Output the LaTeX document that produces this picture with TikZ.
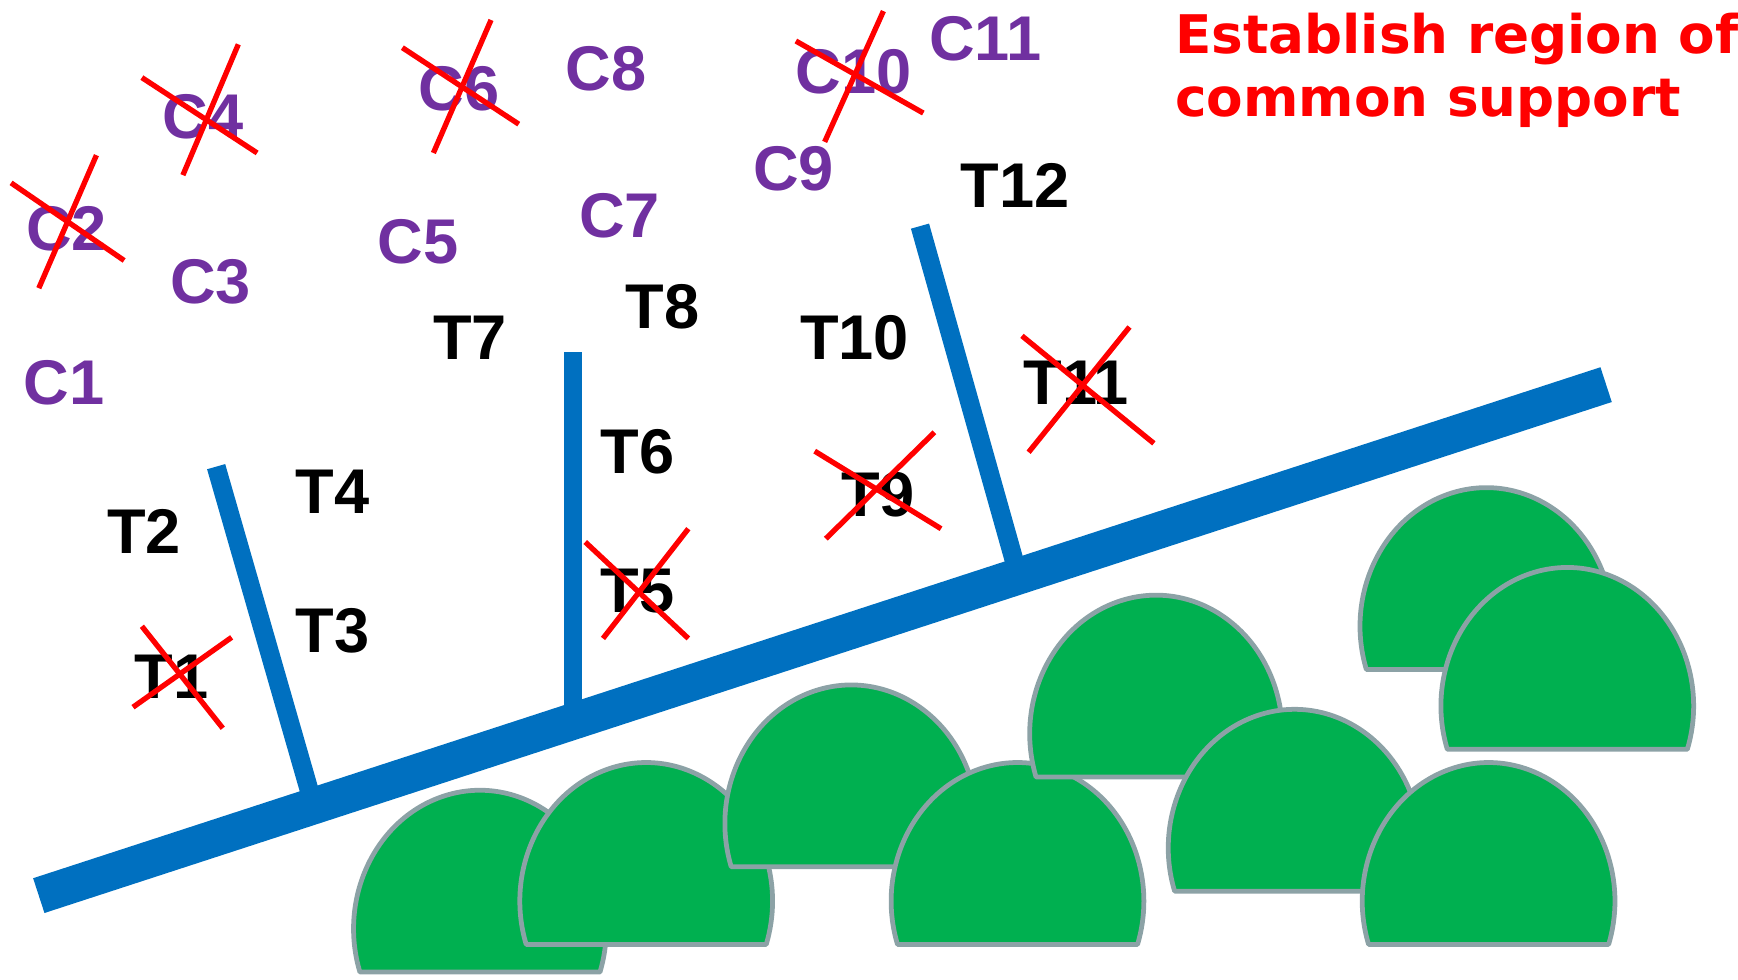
\documentclass[tikz,border=0pt]{standalone}
\usepackage{fontspec}
\setmainfont{Liberation Sans}
\newfontfamily\titlefont{DejaVu Sans}
\definecolor{cpurple}{RGB}{112,48,160}
\definecolor{cblue}{RGB}{0,112,192}
\definecolor{cgreen}{RGB}{0,176,80}
\definecolor{cgrey}{RGB}{140,162,166}
\definecolor{cred}{RGB}{255,0,0}
\newcommand\greenblob[2]{\draw[blob] ({#1-108.3},{#2+164}) arc[start angle=161.8,end angle=378.2,x radius=114,y radius=125] -- cycle;}
\begin{document}
\begin{tikzpicture}[x=1pt,y=-1pt,
  clabel/.style={text=cpurple, font=\bfseries\fontsize{57}{60}\selectfont, inner sep=0pt},
  tlabel/.style={text=black, font=\bfseries\fontsize{57}{60}\selectfont, inner sep=0pt},
  titletext/.style={text=cred, font=\titlefont\bfseries\fontsize{48}{57}\selectfont, inner sep=0pt, anchor=base west},
  crossline/.style={draw=cred, line width=4.8pt},
  mainbar/.style={draw=cblue, line width=33pt},
  branchbar/.style={draw=cblue, line width=17pt},
  blob/.style={fill=cgreen, draw=cgrey, line width=4.3pt, line join=round}]
\useasboundingbox (0,0) rectangle (1568,884);

% blue tree
\coordinate (barL) at (35,808);
\coordinate (barR) at (1449,347);
\coordinate (b1top) at (195,421);
\coordinate (b1foot) at (283,727);
\coordinate (b2top) at (517,318);
\coordinate (b2foot) at (517,651);
\coordinate (b3top) at (830,204);
\coordinate (b3foot) at (919,520);
\draw[branchbar] (b1top) -- (b1foot);
\draw[branchbar] (b2top) -- (b2foot);
\draw[branchbar] (b3top) -- (b3foot);
\draw[mainbar] (barL) -- (barR);

% green blobs
\greenblob{433}{713}
\greenblob{583}{688}
\greenblob{768}{618}
\greenblob{918}{688}
\greenblob{1043}{537}
\greenblob{1168}{640}
\greenblob{1343}{688}
\greenblob{1341}{440}
\greenblob{1414}{512}

% labels C
\node[clabel] (C1) at (58,345) {C1};
\node[clabel] (C2) at (60,206) {C2};
\node[clabel] (C3) at (190,254) {C3};
\node[clabel] (C4) at (183,105) {C4};
\node[clabel] (C5) at (377,218) {C5};
\node[clabel] (C6) at (414,80) {C6};
\node[clabel] (C7) at (559,195) {C7};
\node[clabel] (C8) at (547,62) {C8};
\node[clabel] (C9) at (716,152) {C9};
\node[clabel] (C10) at (770,65) {C10};
\node[clabel] (C11) at (889,35) {C11};

% labels T
\node[tlabel] (T1) at (155,611) {T1};
\node[tlabel] (T2) at (130,479) {T2};
\node[tlabel] (T3) at (300,569) {T3};
\node[tlabel] (T4) at (300,444) {T4};
\node[tlabel] (T5) at (575,533) {T5};
\node[tlabel] (T6) at (575,408) {T6};
\node[tlabel] (T7) at (424,305) {T7};
\node[tlabel] (T8) at (598,277) {T8};
\node[tlabel] (T9) at (792,446) {T9};
\node[tlabel] (T10) at (771,305) {T10};
\node[tlabel] (T11) at (971,345) {T11};
\node[tlabel] (T12) at (916,167) {T12};

% crosses
\draw[crossline] (10,165) -- (112,235);
\draw[crossline] (87,140) -- (35,260);
\draw[crossline] (128,70) -- (232,138);
\draw[crossline] (215,40) -- (165,158);
\draw[crossline] (363,43) -- (468,112);
\draw[crossline] (443,18) -- (391,138);
\draw[crossline] (718,37) -- (833,102);
\draw[crossline] (797,10) -- (744,128);
\draw[crossline] (128,565) -- (201,657);
\draw[crossline] (120,638) -- (209,575);
\draw[crossline] (528,489) -- (621,576);
\draw[crossline] (544,576) -- (621,477);
\draw[crossline] (735,407) -- (849,477);
\draw[crossline] (745,486) -- (843,390);
\draw[crossline] (922,303) -- (1041,400);
\draw[crossline] (928,408) -- (1019,295);

% title
\node[titletext] (title1) at (1060,48) {Establish region of};
\node[titletext] (title2) at (1060,105) {common support};
\end{tikzpicture}
\end{document}
